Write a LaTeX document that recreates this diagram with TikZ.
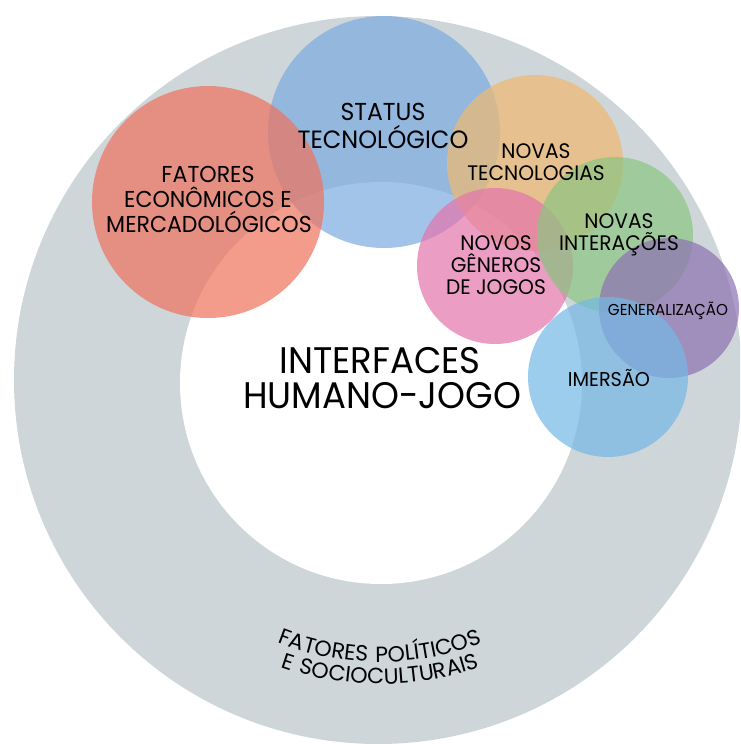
\documentclass[tikz,border=0pt]{standalone}
\usepackage{fontspec}
\setmainfont{Poppins}[FakeStretch=0.96]
\newfontfamily\ringfont{Poppins}[LetterSpace=8]
\usetikzlibrary{decorations.text,calc}

% palette
\definecolor{ringgray}{HTML}{CFD6DA}
\definecolor{cstatus}{RGB}{124,171,225}
\definecolor{ceco}{RGB}{238,114,92}
\definecolor{ctec}{RGB}{240,185,112}
\definecolor{cinter}{RGB}{140,197,129}
\definecolor{cgenre}{RGB}{228,116,172}
\definecolor{cgeneral}{RGB}{141,113,178}
\definecolor{cimmer}{RGB}{116,184,228}

\tikzset{
  bubble/.style={fill=#1, fill opacity=0.7},
  lbl/.style={anchor=base, inner sep=0pt, text=black, font=\fontsize{#1}{#1}\selectfont},
}

\begin{document}
\begin{tikzpicture}[x=1pt, y=1pt]
  \useasboundingbox (0,0) rectangle (740,-744);
  \clip (0,0) rectangle (740,-744);

  % outer context ring
  \coordinate (ringc) at (378,-380);
  \fill[ringgray] (ringc) circle[radius=364pt];
  \fill[white] (381,-383) circle[radius=201pt];

  % overlapping factor circles
  \fill[bubble=cstatus]  (384,-132) circle[radius=116pt];
  \fill[bubble=ceco]     (208,-202) circle[radius=116pt];
  \fill[bubble=ctec]     (535,-163) circle[radius=88pt];
  \fill[bubble=cgenre]   (495,-266) circle[radius=78pt];
  \fill[bubble=cinter]   (615,-235) circle[radius=78pt];
  \fill[bubble=cgeneral] (669,-308) circle[radius=70pt];
  \fill[bubble=cimmer]   (608,-377) circle[radius=80pt];

  % labels
  \node[lbl=24.5] (st1) at (383,-120) {STATUS};
  \node[lbl=25] (st2) at (383,-148) {TECNOLÓGICO};

  \node[lbl=23] (ec1) at (208,-182) {FATORES};
  \node[lbl=23] (ec2) at (208,-207) {ECONÔMICOS E};
  \node[lbl=23] (ec3) at (209,-232) {MERCADOLÓGICOS};

  \node[lbl=21] (nt1) at (536,-158) {NOVAS};
  \node[lbl=21] (nt2) at (536,-180) {TECNOLOGIAS};

  \node[lbl=21] (ni1) at (619,-228) {NOVAS};
  \node[lbl=21] (ni2) at (619,-250) {INTERAÇÕES};

  \node[lbl=21] (ng1) at (496,-250) {NOVOS};
  \node[lbl=21] (ng2) at (496,-272) {GÊNEROS};
  \node[lbl=21] (ng3) at (496,-294) {DE JOGOS};

  \node[lbl=15.8] (gen) at (668,-315) {GENERALIZAÇÃO};
  \node[lbl=20] (ime) at (609,-386) {IMERSÃO};

  \node[lbl=37] (ih1) at (380,-373) {INTERFACES};
  \node[lbl=37] (ih2) at (382,-408) {HUMANO-JOGO};

  % curved caption in the ring
  \coordinate (arcc) at (380,-382);
  \coordinate (a1) at ($(arcc)+(-150:280pt)$);
  \coordinate (a2) at ($(arcc)+(-150:302pt)$);
  \path[decorate, decoration={text along path, text align=center,
        text={|\ringfont\fontsize{22}{22}\selectfont|FATORES POLÍTICOS}}]
    (a1) arc[start angle=-150, end angle=-30, radius=280pt];
  \path[decorate, decoration={text along path, text align=center,
        text={|\ringfont\fontsize{22}{22}\selectfont|E SOCIOCULTURAIS}}]
    (a2) arc[start angle=-150, end angle=-30, radius=302pt];
\end{tikzpicture}
\end{document}
